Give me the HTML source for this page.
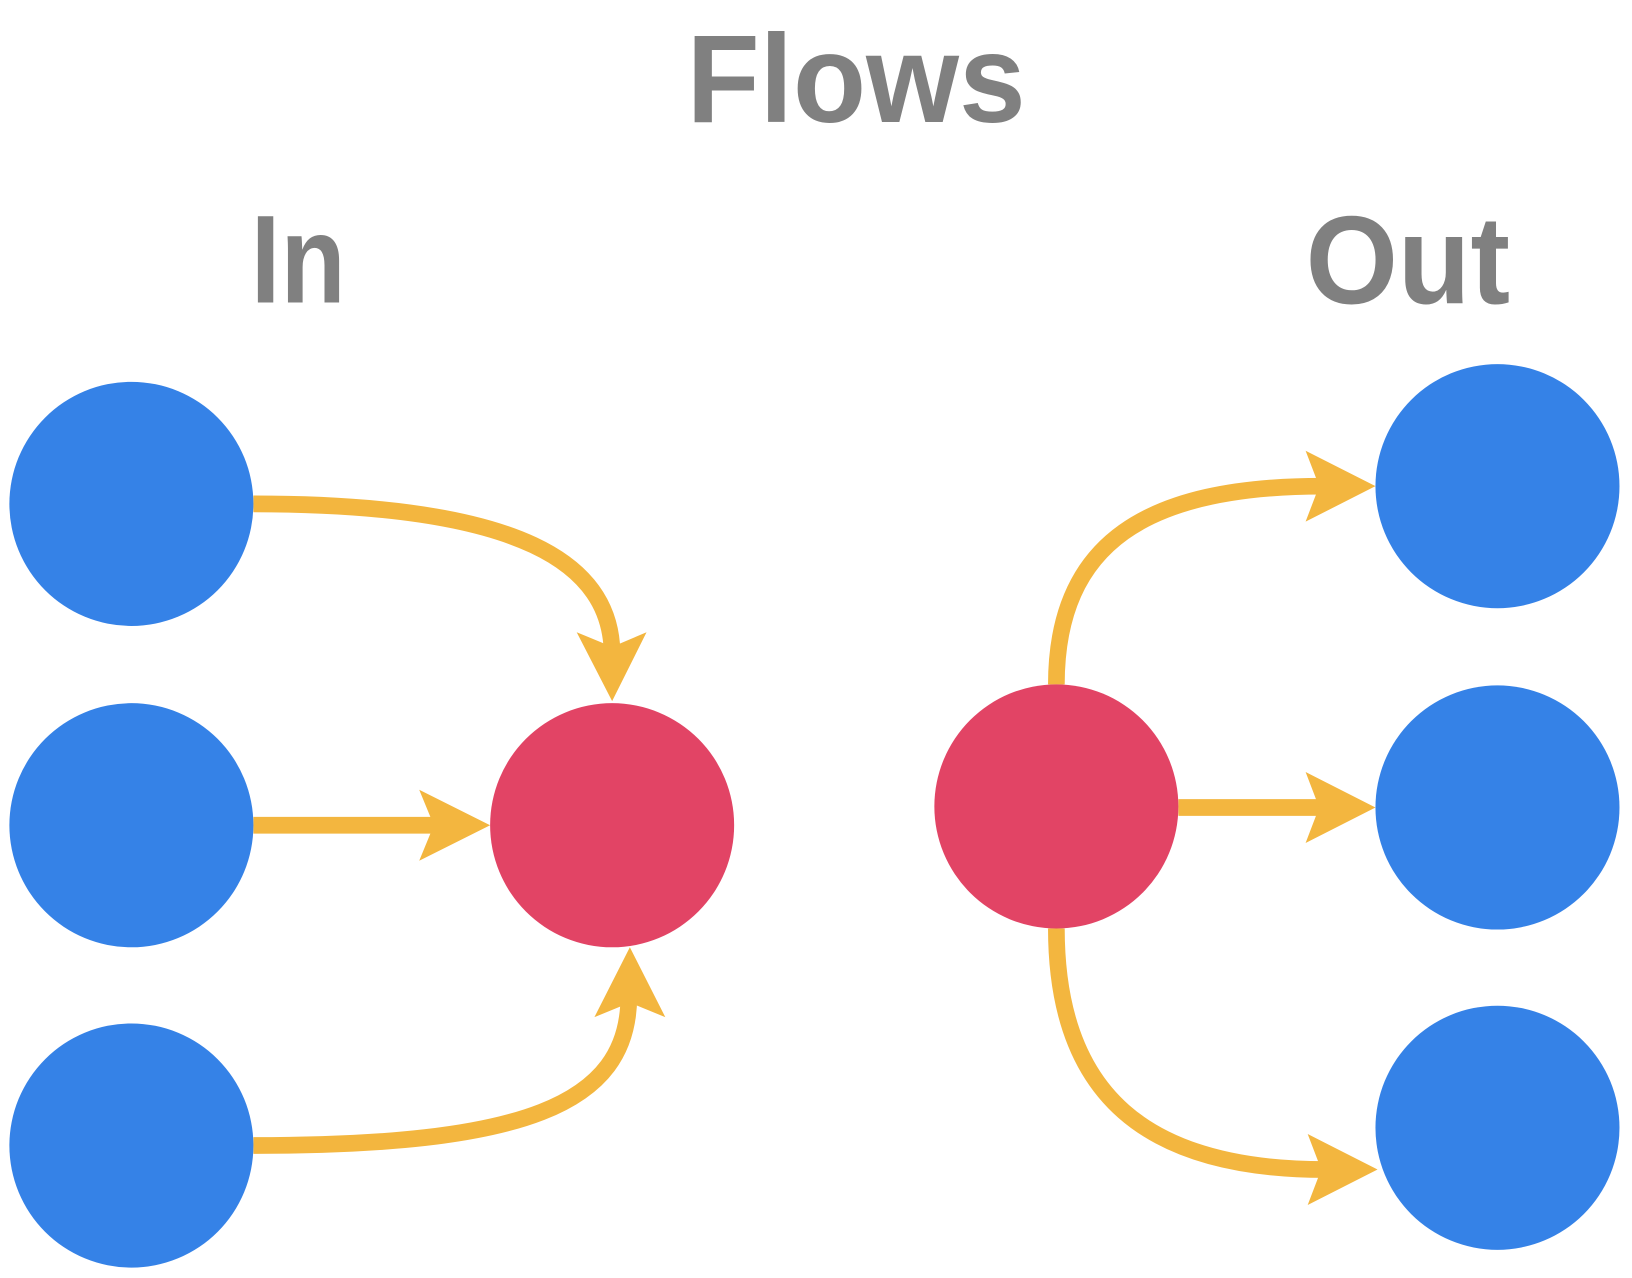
<!DOCTYPE html>
<html><head><meta charset="utf-8"><style>
html,body{margin:0;padding:0;background:#fff;}
svg{display:block;}
</style></head><body>
<svg width="1632" height="1278" viewBox="0 0 1565 1225" preserveAspectRatio="none" xmlns="http://www.w3.org/2000/svg">
<g font-family="'Liberation Sans', Arial, sans-serif" font-weight="bold" fill="#808080" font-size="120">
<text x="821" y="117" text-anchor="middle" textLength="325" lengthAdjust="spacingAndGlyphs">Flows</text>
<text x="286" y="290" text-anchor="middle" textLength="91" lengthAdjust="spacingAndGlyphs">In</text>
<text x="1350" y="291" text-anchor="middle" textLength="196" lengthAdjust="spacingAndGlyphs">Out</text>
</g>
<g fill="none" stroke="#F3B63F" stroke-width="16">
<path d="M243,483 C500,483 587,540 587,628"/>
<path d="M243,1098 C500,1098 603,1060 603,955"/>
<path d="M243,791 L420,791"/>
<path d="M1013,656 C1013,520 1100,466 1268,466"/>
<path d="M1130,774 L1268,774"/>
<path d="M1013,890 C1013,1050 1100,1121 1270,1121"/>
</g>
<g fill="#F3B63F">
<polygon points="587,672 553,606 587,620 620,606"/>
<polygon points="604,908 570,975 604,961 638,975"/>
<polygon points="470,791 402,757 416,791 402,825"/>
<polygon points="1319,466 1252,432 1265,466 1252,500"/>
<polygon points="1319,774 1252,740 1265,774 1252,808"/>
<polygon points="1321,1121 1254,1087 1267,1121 1254,1155"/>
</g>
<g fill="#3582E7">
<circle cx="126" cy="483" r="117"/>
<circle cx="126" cy="791" r="117"/>
<circle cx="126" cy="1098" r="117"/>
<circle cx="1436" cy="466" r="117"/>
<circle cx="1436" cy="774" r="117"/>
<circle cx="1436" cy="1081" r="117"/>
</g>
<g fill="#E24465">
<circle cx="587" cy="791" r="117"/>
<circle cx="1013" cy="773" r="117"/>
</g>
</svg>
</body></html>
